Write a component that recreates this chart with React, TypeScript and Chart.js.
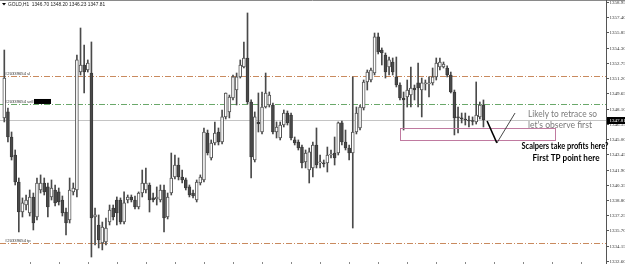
import { useEffect, useRef } from 'react';
import { Chart, registerables } from 'chart.js';

Chart.register(...registerables);

// ---- data (GOLD H1 candles) ----
const opens = [
  1347.15, 1347.76, 1345.21, 1343.38, 1340.63, 1337.58, 1338.29, 1337.48, 1339.11, 1337.07,
  1339.82, 1340.53, 1340.13, 1339.11, 1339.82, 1339.62, 1338.80, 1337.58, 1336.77, 1339.62,
  1339.82, 1351.82, 1352.54, 1352.03, 1351.72, 1337.07, 1336.26, 1334.43, 1334.53, 1336.56,
  1337.99, 1338.80, 1338.80, 1336.56, 1338.80, 1339.11, 1338.80, 1338.09, 1339.51, 1339.82,
  1340.33, 1339.01, 1338.90, 1338.80, 1339.82, 1337.07, 1339.51, 1341.14, 1342.36, 1341.14,
  1340.84, 1340.13, 1339.51, 1338.80, 1340.53, 1340.84, 1345.62, 1343.08, 1344.60, 1345.72,
  1344.70, 1347.25, 1347.76, 1349.18, 1349.99, 1351.32, 1352.33, 1353.25, 1348.77, 1342.87,
  1346.74, 1345.72, 1348.26, 1348.47, 1348.47, 1345.72, 1345.11, 1346.43, 1347.65, 1347.45,
  1344.91, 1344.70, 1344.19, 1342.67, 1341.85, 1342.06, 1344.40, 1342.57, 1342.57, 1342.57,
  1343.38, 1343.58, 1343.58, 1346.64, 1344.70, 1344.09, 1343.58, 1345.72, 1346.13, 1348.16,
  1350.81, 1351.01, 1351.72, 1355.39, 1354.06, 1353.55, 1352.33, 1352.84, 1351.32, 1350.50,
  1349.18, 1349.28, 1349.48, 1350.20, 1350.71, 1349.99, 1350.60, 1350.60, 1350.71, 1351.32,
  1352.33, 1352.33, 1352.23, 1351.52, 1349.79, 1347.25, 1347.15, 1347.04, 1346.94, 1346.84,
  1346.74, 1347.25, 1348.47,
];
const highs = [
  1354.06, 1348.16, 1345.72, 1343.89, 1341.04, 1339.01, 1339.31, 1339.82, 1339.51, 1341.04,
  1341.35, 1341.04, 1340.53, 1340.84, 1340.33, 1340.02, 1339.21, 1337.99, 1341.04, 1340.53,
  1353.55, 1356.30, 1354.57, 1353.05, 1354.88, 1337.99, 1337.28, 1336.56, 1336.97, 1338.29,
  1338.29, 1339.11, 1339.01, 1339.62, 1339.31, 1339.31, 1339.21, 1339.62, 1341.85, 1342.06,
  1340.53, 1339.51, 1340.13, 1340.33, 1340.33, 1339.51, 1343.58, 1343.38, 1343.08, 1341.85,
  1341.04, 1340.33, 1339.82, 1340.84, 1341.35, 1346.13, 1345.92, 1344.91, 1346.74, 1346.13,
  1347.96, 1349.69, 1349.48, 1351.52, 1351.72, 1353.05, 1354.88, 1357.83, 1348.98, 1347.76,
  1349.69, 1349.79, 1351.72, 1349.79, 1348.67, 1346.74, 1346.74, 1347.96, 1347.86, 1347.65,
  1345.21, 1344.91, 1344.40, 1343.89, 1344.09, 1344.70, 1346.13, 1343.38, 1342.87, 1344.19,
  1343.89, 1345.21, 1346.74, 1346.84, 1345.92, 1344.40, 1351.32, 1348.26, 1348.47, 1351.01,
  1352.03, 1352.23, 1355.79, 1355.79, 1354.27, 1353.76, 1353.35, 1353.25, 1353.35, 1350.71,
  1349.79, 1351.01, 1352.33, 1350.50, 1352.74, 1351.21, 1351.01, 1351.32, 1352.23, 1353.25,
  1353.25, 1352.84, 1352.44, 1351.82, 1349.99, 1348.26, 1347.65, 1347.65, 1347.35, 1347.25,
  1350.81, 1348.77, 1348.98,
];
const lows = [
  1346.74, 1344.70, 1342.87, 1340.33, 1335.55, 1337.07, 1337.78, 1337.17, 1335.75, 1336.77,
  1339.51, 1339.31, 1337.07, 1338.80, 1338.19, 1338.29, 1337.17, 1335.24, 1336.46, 1339.31,
  1339.11, 1351.52, 1349.69, 1351.82, 1333.00, 1334.22, 1333.92, 1333.72, 1334.22, 1336.26,
  1336.77, 1336.26, 1336.36, 1336.36, 1338.50, 1338.60, 1337.89, 1337.89, 1339.11, 1339.51,
  1337.58, 1338.60, 1338.29, 1338.60, 1335.55, 1336.87, 1339.31, 1340.94, 1340.84, 1340.53,
  1339.82, 1339.11, 1339.01, 1338.60, 1340.33, 1340.63, 1343.38, 1342.87, 1344.40, 1344.40,
  1344.50, 1347.04, 1347.15, 1348.98, 1348.47, 1351.21, 1352.23, 1348.57, 1341.04, 1342.67,
  1345.72, 1345.52, 1348.16, 1348.26, 1345.52, 1345.11, 1344.91, 1346.23, 1346.43, 1344.91,
  1344.40, 1343.89, 1342.06, 1342.06, 1340.53, 1341.14, 1342.06, 1342.06, 1342.16, 1341.65,
  1343.08, 1342.36, 1343.38, 1344.40, 1343.89, 1342.87, 1335.95, 1345.52, 1345.92, 1347.96,
  1349.99, 1350.81, 1351.52, 1353.66, 1352.54, 1351.21, 1351.52, 1351.52, 1350.30, 1348.98,
  1345.92, 1348.26, 1348.26, 1348.98, 1348.26, 1347.25, 1349.99, 1349.28, 1350.50, 1351.01,
  1352.03, 1352.23, 1351.32, 1349.69, 1345.42, 1345.62, 1346.64, 1346.43, 1346.23, 1346.43,
  1346.53, 1347.04, 1346.23,
];
const closes = [
  1351.21, 1345.21, 1343.18, 1340.63, 1337.58, 1338.50, 1338.80, 1339.11, 1336.46, 1340.53,
  1340.53, 1339.62, 1338.09, 1340.02, 1338.50, 1338.60, 1337.48, 1336.46, 1339.82, 1340.02,
  1353.05, 1352.54, 1351.82, 1352.74, 1336.97, 1337.28, 1334.73, 1336.05, 1335.95, 1337.78,
  1337.07, 1337.48, 1336.56, 1338.50, 1339.11, 1338.80, 1338.09, 1339.51, 1340.53, 1340.53,
  1338.80, 1338.80, 1339.11, 1339.82, 1336.97, 1339.11, 1341.04, 1342.36, 1341.14, 1340.84,
  1340.02, 1339.31, 1339.21, 1340.63, 1341.14, 1345.72, 1343.58, 1344.60, 1345.62, 1344.70,
  1347.25, 1349.69, 1349.28, 1351.32, 1351.32, 1352.54, 1353.25, 1348.77, 1343.18, 1347.25,
  1346.53, 1348.26, 1349.69, 1349.48, 1345.72, 1346.23, 1346.43, 1347.65, 1346.64, 1345.11,
  1344.60, 1344.09, 1342.57, 1343.58, 1343.69, 1344.40, 1342.36, 1342.67, 1342.46, 1343.38,
  1343.48, 1343.08, 1346.64, 1344.70, 1344.09, 1343.58, 1345.72, 1347.65, 1348.26, 1350.81,
  1351.82, 1352.03, 1355.39, 1353.86, 1353.76, 1351.82, 1353.05, 1351.82, 1350.50, 1349.18,
  1348.98, 1349.99, 1350.20, 1349.99, 1350.20, 1350.71, 1350.71, 1350.71, 1351.32, 1352.74,
  1352.84, 1352.64, 1351.52, 1349.79, 1347.15, 1347.15, 1347.04, 1346.94, 1346.84, 1346.79,
  1347.45, 1348.47, 1346.94,
];

const priceTicks = [
  1358.95, 1357.4, 1355.85, 1354.3, 1352.75, 1351.2, 1349.65, 1348.1, 1346.55,
  1345.0, 1343.45, 1341.9, 1340.35, 1338.8, 1337.25, 1335.7, 1334.15, 1332.6,
];
const timeTickEvery = 8;
const timeTickStart = 7;

const headerText = 'GOLD,H1  1346.70 1348.20 1346.23 1347.81';
const bidText = '1347.81';
const bidLevel = 1346.94;
const slLevel = 1351.42;
const sellLevel = 1348.57;
const tpLevel = 1334.43;
const slLabel = '#20339654 sl';
const sellLabel = '#20339654 sell';
const tpLabel = '#20339654 tp';

// annotation anchors in (bar index, price)
const zoneBox = [109.0, 1346.13, 151.7, 1344.91];
const vLegA = [133.0, 1346.84, 135.7, 1344.6];
const vLegB = [135.7, 1344.6, 140.7, 1347.65];
const noteGray = ['Likely to retrace so', "let's observe first"];
const noteBold = ['Scalpers take profits here?', 'First TP point here'];

const X_MIN = -1.185;
const X_MAX = 165.76;
const Y_MIN = 1332.39;
const Y_MAX = 1359.15;

const overlay = {
  id: 'mt4overlay',
  beforeDatasetsDraw(chart: any) {
    const { ctx, chartArea, scales } = chart;
    const { left, right, bottom } = chartArea;
    const y = scales.y;
    const x = scales.x;
    ctx.save();
    const by = Math.round(y.getPixelForValue(bidLevel)) + 0.5;
    ctx.strokeStyle = '#c4c4c4';
    ctx.lineWidth = 1;
    ctx.beginPath();
    ctx.moveTo(left, by);
    ctx.lineTo(right, by);
    ctx.stroke();
    const lvl = (v: number, c: string) => {
      const py = Math.round(y.getPixelForValue(v)) + 0.5;
      ctx.strokeStyle = c;
      ctx.setLineDash([6, 2, 1, 2]);
      ctx.beginPath();
      ctx.moveTo(left, py);
      ctx.lineTo(right, py);
      ctx.stroke();
    };
    lvl(slLevel, '#c98a5e');
    lvl(sellLevel, '#6aa86a');
    lvl(tpLevel, '#c98a5e');
    ctx.setLineDash([]);
    ctx.strokeStyle = '#888';
    for (let i = timeTickStart; i < X_MAX; i += timeTickEvery) {
      const px = Math.round(x.getPixelForValue(i)) + 0.5;
      ctx.beginPath();
      ctx.moveTo(px, bottom - 1);
      ctx.lineTo(px, bottom + 1);
      ctx.stroke();
    }
    ctx.restore();
  },
  afterDraw(chart: any) {
    const { ctx, chartArea, scales, width } = chart;
    const { left, right, top, bottom } = chartArea;
    const y = scales.y;
    const x = scales.x;
    ctx.save();
    ctx.strokeStyle = '#8a8a8a';
    ctx.lineWidth = 1;
    ctx.beginPath();
    ctx.moveTo(0, 0.5);
    ctx.lineTo(width, 0.5);
    ctx.stroke();
    ctx.strokeStyle = '#555';
    ctx.beginPath();
    ctx.moveTo(right + 0.5, top);
    ctx.lineTo(right + 0.5, bottom + 1);
    ctx.stroke();
    ctx.font = '5px "Liberation Serif"';
    ctx.fillStyle = '#333';
    ctx.textBaseline = 'middle';
    ctx.textAlign = 'left';
    priceTicks.forEach((v) => {
      const py = Math.round(y.getPixelForValue(v)) + 0.5;
      ctx.beginPath();
      ctx.moveTo(right, py);
      ctx.lineTo(right + 3, py);
      ctx.stroke();
      ctx.fillText(v.toFixed(2), right + 3.5, py);
    });
    const by = Math.round(y.getPixelForValue(bidLevel));
    ctx.fillStyle = '#000';
    ctx.fillRect(right + 1, by - 3, width - right - 1, 7);
    ctx.fillStyle = '#fff';
    ctx.fillText(bidText, right + 3.5, by + 0.5);
    ctx.fillStyle = '#000';
    ctx.beginPath();
    ctx.moveTo(2, 3);
    ctx.lineTo(6, 3);
    ctx.lineTo(4, 5.5);
    ctx.closePath();
    ctx.fill();
    ctx.font = '4.8px "Liberation Sans"';
    ctx.fillStyle = '#222';
    ctx.fillText(headerText, 8, 4.5);
    ctx.font = '4.2px "Liberation Sans"';
    ctx.fillStyle = '#333';
    ctx.textBaseline = 'bottom';
    ctx.fillText(slLabel, left + 5, y.getPixelForValue(slLevel) - 0.5);
    ctx.fillText(sellLabel, left + 5, y.getPixelForValue(sellLevel) - 0.5);
    ctx.fillText(tpLabel, left + 5, y.getPixelForValue(tpLevel) - 0.5);
    const sy = y.getPixelForValue(sellLevel);
    const sw = ctx.measureText(sellLabel).width;
    ctx.fillStyle = '#000';
    ctx.fillRect(Math.round(left + 6 + sw), sy - 5, 17, 5);
    const bx1 = x.getPixelForValue(zoneBox[0]);
    const by1 = y.getPixelForValue(zoneBox[1]);
    const bx2 = x.getPixelForValue(zoneBox[2]);
    const by2 = y.getPixelForValue(zoneBox[3]);
    ctx.strokeStyle = '#c07aa0';
    ctx.lineWidth = 1;
    ctx.strokeRect(Math.round(bx1) + 0.5, Math.round(by1) + 0.5, Math.round(bx2 - bx1), Math.round(by2 - by1));
    ctx.strokeStyle = '#000';
    ctx.lineWidth = 1.6;
    ctx.beginPath();
    ctx.moveTo(x.getPixelForValue(vLegA[0]), y.getPixelForValue(vLegA[1]));
    ctx.lineTo(x.getPixelForValue(vLegA[2]), y.getPixelForValue(vLegA[3]));
    ctx.stroke();
    ctx.strokeStyle = '#333';
    ctx.lineWidth = 0.9;
    ctx.beginPath();
    ctx.moveTo(x.getPixelForValue(vLegB[0]), y.getPixelForValue(vLegB[1]));
    ctx.lineTo(x.getPixelForValue(vLegB[2]), y.getPixelForValue(vLegB[3]));
    ctx.stroke();
    const fit = (t: string, x0: number, y0: number, w: number, align: string) => {
      const m = ctx.measureText(t).width;
      const s = w / m;
      ctx.save();
      ctx.translate(align === 'center' ? x0 - w / 2 : x0, y0);
      ctx.scale(s, 1);
      ctx.textAlign = 'left';
      ctx.fillText(t, 0, 0);
      ctx.restore();
    };
    ctx.textBaseline = 'middle';
    ctx.font = '8.5px Lato';
    ctx.fillStyle = '#7a7a7a';
    fit(noteGray[0], 528, 114, 69, 'left');
    fit(noteGray[1], 528, 125, 64, 'left');
    ctx.font = 'bold 8.5px Lato';
    ctx.fillStyle = '#000';
    fit(noteBold[0], 565, 146, 87, 'center');
    fit(noteBold[1], 566, 158, 67, 'center');
    ctx.restore();
  },
};

export default function App() {
  const ref = useRef<HTMLCanvasElement | null>(null);
  useEffect(() => {
    document.body.style.margin = '0';
    const canvas = ref.current;
    if (!canvas) return;
    const n = opens.length;
    const idx = Array.from({ length: n }, (_, i) => i);
    const bull = idx.map((i) => closes[i] >= opens[i]);
    const chart = new Chart(canvas, {
      type: 'bar',
      data: {
        datasets: [
          {
            label: 'body',
            data: idx.map((i) => ({ x: i, y: [Math.min(opens[i], closes[i]), Math.max(opens[i], closes[i])] })) as any,
            backgroundColor: idx.map((i) => (bull[i] ? '#ffffff' : '#4a4a4a')),
            borderColor: idx.map((i) => (bull[i] ? '#555555' : '#3a3a3a')),
            borderWidth: 1,
            borderSkipped: false,
            barThickness: 3,
            minBarLength: 1,
            grouped: false,
            order: 0,
          } as any,
          {
            label: 'wick',
            data: idx.map((i) => ({ x: i, y: [lows[i], highs[i]] })) as any,
            backgroundColor: '#4a4a4a',
            borderWidth: 0,
            barThickness: 1,
            grouped: false,
            order: 1,
          } as any,
        ],
      },
      options: {
        animation: false,
        responsive: false,
        devicePixelRatio: 1,
        layout: { padding: { left: 0, right: 19, top: 0, bottom: 1 } },
        plugins: { legend: { display: false }, tooltip: { enabled: false } },
        scales: {
          x: { type: 'linear', min: X_MIN, max: X_MAX, offset: false, display: false, grid: { offset: false } as any },
          y: { type: 'linear', min: Y_MIN, max: Y_MAX, display: false },
        },
      } as any,
      plugins: [overlay],
    });
    return () => chart.destroy();
  }, []);
  return (
    <div style={{ width: 625, height: 264, background: '#fff' }}>
      <canvas ref={ref} width={625} height={264} style={{ display: 'block' }} />
    </div>
  );
}
